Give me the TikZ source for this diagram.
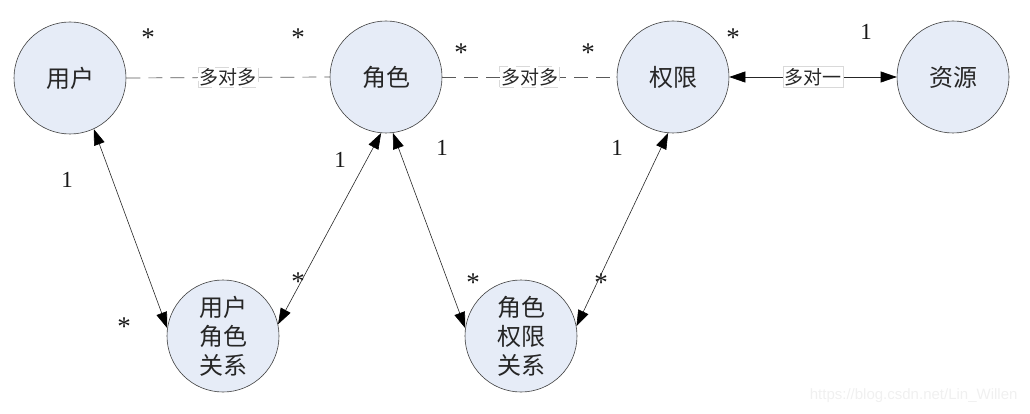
\documentclass[tikz,border=0pt]{standalone}
\usepackage{fontspec}
\setmainfont{Liberation Serif}
\newfontfamily\cjk{Noto Sans CJK SC}[Scale=1]
\usetikzlibrary{arrows.meta}
\begin{document}
\begin{tikzpicture}[x=1pt,y=-1pt,
  ent/.style={circle,draw=black!75,line width=0.6pt,fill={rgb,255:red,230;green,236;blue,247},minimum size=112pt,inner sep=0pt,font=\cjk\fontsize{24}{28}\selectfont,text=black!85},
  lbl/.style={draw=black!15,fill=white,inner sep=1.5pt,font=\cjk\fontsize{19}{22}\selectfont,text=black!85},
  mult/.style={font=\fontsize{23}{24}\selectfont,text=black!90},
  star/.style={font=\fontsize{27}{28}\selectfont,text=black!90},
  dline/.style={draw=black!65,line width=0.7pt,dash pattern=on 14pt off 8pt},
  aline/.style={draw=black!85,line width=0.6pt,{Triangle[length=16pt,width=11pt,color=black]}-{Triangle[length=16pt,width=11pt,color=black]}}
]
\useasboundingbox (0,0) rectangle (1030,414);
\node[ent] (yh) at (70,78) {用户};
\node[ent] (js) at (386,77) {角色};
\node[ent] (qx) at (673,77) {权限};
\node[ent] (zy) at (953,77) {资源};
\node[ent,align=center,font=\cjk\fontsize{24}{29}\selectfont] (ur) at (223,336) {用户\\角色\\关系};
\node[ent,align=center,font=\cjk\fontsize{24}{29}\selectfont] (rp) at (521,336) {角色\\权限\\关系};

\draw[dline] (yh.east) -- node[lbl]{多对多} (js.west);
\draw[dline] (js.east) -- node[lbl]{多对多} (qx.west);
\draw[aline] (qx.east) -- node[lbl]{多对一} (zy.west);

\draw[aline] (yh.-65) -- (ur.172);
\draw[aline] (js.-95) -- (ur.12);
\draw[aline] (js.-83) -- (rp.172);
\draw[aline] (qx.-95) -- (rp.10);

\node[star] (m1) at (148,38) {*};
\node[star] (m2) at (298,38) {*};
\node[star] (m3) at (461,53) {*};
\node[star] (m4) at (588,53) {*};
\node[star] (m5) at (733,38) {*};
\node[mult] (m6) at (866,32) {1};
\node[mult] (m7) at (67,180) {1};
\node[mult] (m8) at (340,160) {1};
\node[mult] (m9) at (442,148) {1};
\node[mult] (m10) at (617,148) {1};
\node[star] (m11) at (124,327) {*};
\node[star] (m12) at (298,282) {*};
\node[star] (m13) at (473,283) {*};
\node[star] (m14) at (601,283) {*};
\node[font=\fontspec{Liberation Sans}\fontsize{15}{17}\selectfont,text=black!6,anchor=east] (wm) at (1021,396) {https://blog.csdn.net/Lin\_Willen};
\end{tikzpicture}
\end{document}
